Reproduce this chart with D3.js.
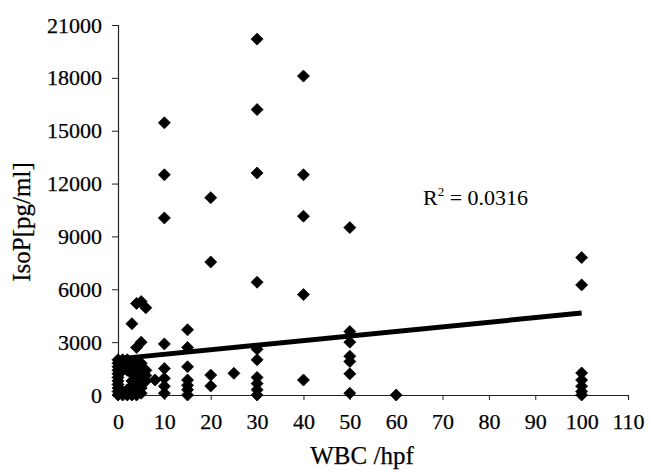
<!DOCTYPE html>
<html>
<head>
<meta charset="utf-8">
<script src="https://cdn.jsdelivr.net/npm/d3@7"></script>
<style>
  html, body { margin: 0; padding: 0; background: #fff; }
  svg { display: block; }
  text { font-family: "Liberation Serif", "Times New Roman", serif; fill: #000; }
</style>
</head>
<body>
<svg id="chart" width="650" height="474"></svg>
<script>
// ---- data ----
const wbc  = [
  0,0,0,0,0,0,0,0,0,0,0,
  1,1,1,1,1,
  2,2,2,2,2,
  3,3,3,3,3,3,3,3,
  4,4,4,4,4,4,4,4,
  5,5,5,5,5,5,5,5,5,
  6,6,6,6,
  8,
  10,10,10,10,10,10,10,10,
  15,15,15,15,15,15,15,
  20,20,20,20,
  25,
  30,30,30,30,30,30,30,30,30,30,
  40,40,40,40,40,
  50,50,50,50,50,50,50,
  60,
  100,100,100,100,100,100,100
];
const isop = [
  0,200,400,600,800,1000,1200,1400,1600,1800,2000,
  2000,1700,1400,200,0,
  2000,1700,1400,300,0,
  4050,1800,1500,1200,800,500,200,0,
  5200,2700,1800,1500,1200,900,300,0,
  5300,3000,1800,1600,1300,1000,700,400,100,
  4950,1400,1100,800,
  850,
  15450,12500,10050,2900,1500,950,500,100,
  3700,2700,1600,850,550,300,0,
  11200,7550,1130,510,
  1230,
  20200,16200,12600,6400,2600,2000,1000,650,300,0,
  18100,12500,10150,5700,850,
  9500,3600,3000,2200,1900,1200,100,
  0,
  7800,6250,1250,850,500,200,0
];
const trendX = [0, 100];
const trendY = [2050, 4650];
const xTicks = [0,10,20,30,40,50,60,70,80,90,100,110];
const yTicks = [0,3000,6000,9000,12000,15000,18000,21000];
const rSquaredLabel = "0.0316";

// ---- layout ----
const svg = d3.select("#chart");
const x = d3.scaleLinear().domain([0, 110]).range([118, 628]);
const y = d3.scaleLinear().domain([0, 21000]).range([395, 25]);

// y axis
const gy = svg.append("g")
  .attr("transform", `translate(${x(0)},0)`)
  .call(d3.axisLeft(y).tickValues(yTicks).tickSize(6).tickPadding(10).tickFormat(d3.format("d")));
gy.select(".domain").attr("stroke", "#222").attr("stroke-width", 1.2);
gy.selectAll(".tick line").attr("stroke", "#222");
gy.selectAll(".tick text")
  .attr("font-size", 22)
  .attr("stroke", "#000").attr("stroke-width", 0.25)
  .style("font-family", "'Liberation Serif', serif");

// x axis
const gx = svg.append("g")
  .attr("transform", `translate(0,${y(0)})`)
  .call(d3.axisBottom(x).tickValues(xTicks).tickSize(5).tickPadding(13).tickFormat(d3.format("d")));
gx.select(".domain").attr("stroke", "#222").attr("stroke-width", 1.2);
gx.selectAll(".tick line").attr("stroke", "#222");
gx.selectAll(".tick text")
  .attr("font-size", 22)
  .attr("stroke", "#000").attr("stroke-width", 0.25)
  .style("font-family", "'Liberation Serif', serif");

// points (diamonds)
const diamond = "M0,-6L6,0L0,6L-6,0Z";
svg.append("g")
  .selectAll("path")
  .data(wbc.map((v, i) => [v, isop[i]]))
  .join("path")
  .attr("d", diamond)
  .attr("transform", d => `translate(${x(d[0])},${y(d[1])})`)
  .attr("fill", "#000")
  .attr("stroke", "#000")
  .attr("stroke-width", 0.8)
  .attr("stroke-linejoin", "round");

// trendline
svg.append("path")
  .datum(trendX.map((v, i) => [v, trendY[i]]))
  .attr("d", d3.line().x(d => x(d[0])).y(d => y(d[1])))
  .attr("stroke", "#000")
  .attr("stroke-width", 5)
  .attr("fill", "none");

// R^2 label
const rt = svg.append("text")
  .attr("x", 423)
  .attr("y", 205)
  .attr("font-size", 22);
rt.append("tspan").text("R");
rt.append("tspan").attr("font-size", 13).attr("dy", -9).text("2");
rt.append("tspan").attr("dy", 9).text(" = " + rSquaredLabel);

// axis titles
svg.append("text")
  .attr("transform", "translate(30,222) rotate(-90)")
  .attr("text-anchor", "middle")
  .attr("font-size", 25)
  .attr("stroke", "#000").attr("stroke-width", 0.25)
  .text("IsoP[pg/ml]");

svg.append("text")
  .attr("x", 362)
  .attr("y", 464)
  .attr("text-anchor", "middle")
  .attr("font-size", 25)
  .attr("stroke", "#000").attr("stroke-width", 0.25)
  .text("WBC /hpf");
</script>
</body>
</html>
